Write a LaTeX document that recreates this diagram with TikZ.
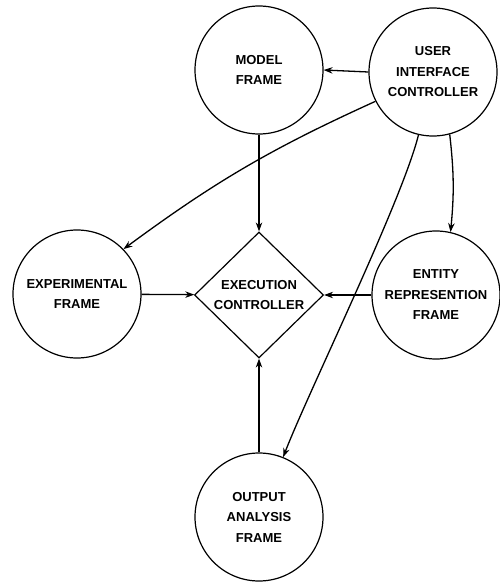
\documentclass[tikz,border=0pt]{standalone}
\usepackage{fontspec}
\setmainfont{Liberation Sans}
\usetikzlibrary{arrows.meta,shapes.geometric,positioning}

\tikzset{
  frame/.style={circle,draw,line width=1.2pt,minimum size=128pt,inner sep=0pt,
                align=center,font=\fontsize{13}{20.5}\selectfont\bfseries},
  ctrl/.style={diamond,draw,line width=1.2pt,minimum width=129pt,minimum height=126pt,
               inner sep=0pt,align=center,font=\fontsize{13}{20.5}\selectfont\bfseries},
  arr/.style={line width=1.3pt,-{Stealth[length=9pt,width=6.5pt,inset=3pt]}}
}

\begin{document}
\begin{tikzpicture}[x=1pt,y=-1pt]
\useasboundingbox (0,0) rectangle (499,583);
% frames
\node[frame] (model) at (259,70) {MODEL\\FRAME};
\node[frame] (uic) at (433,72) {USER\\INTERFACE\\CONTROLLER};
\node[ctrl] (exec) at (259,295) {EXECUTION\\CONTROLLER};
\node[frame] (exp) at (77,294) {EXPERIMENTAL\\FRAME};
\node[frame] (ent) at (436,295) {ENTITY\\REPRESENTION\\FRAME};
\node[frame] (out) at (259,517) {OUTPUT\\ANALYSIS\\FRAME};
% connectors
\draw[arr] (uic.west) -- (model.east);
\draw[arr] (model) -- (exec);
\draw[arr] (exp) -- (exec);
\draw[arr] (ent) -- (exec);
\draw[arr] (out) -- (exec);
\draw[arr] (uic.207) to[bend right=6] (exp.44);
\draw[arr] (uic.-75) to[bend left=6] (ent.77);
\draw[arr] (uic.-103) to[out=256,in=69,looseness=0.5] (out.68);
\end{tikzpicture}
\end{document}
